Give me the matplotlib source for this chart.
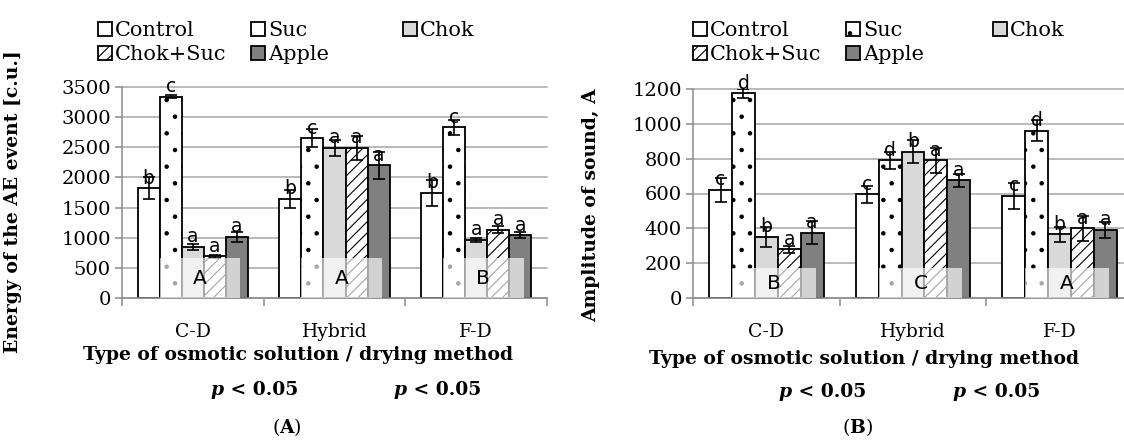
import numpy as np
import matplotlib.pyplot as plt
from matplotlib.patches import Rectangle

plt.rcParams['font.family'] = ['DejaVu Serif']
plt.rcParams['mathtext.fontset'] = 'dejavuserif'
plt.rcParams['hatch.linewidth'] = 0.8

methods = ['C-D', 'Hybrid', 'F-D']
solutions = ['Control', 'Suc', 'Chok', 'Chok+Suc', 'Apple']

# (A) energy of the AE event [c.u.], one list per solution over methods
energy_control = [1820, 1640, 1740]
energy_suc = [3340, 2650, 2830]
energy_chok = [850, 2490, 960]
energy_chok_suc = [690, 2490, 1130]
energy_apple = [1010, 2200, 1040]

energy_control_err = [180, 150, 220]
energy_suc_err = [25, 150, 120]
energy_chok_err = [50, 130, 30]
energy_chok_suc_err = [20, 200, 60]
energy_apple_err = [80, 230, 50]

energy_letters = ['b', 'c', 'a', 'a', 'a']
energy_groups = ['A', 'A', 'B']

# (B) amplitude of sound
amp_control = [620, 595, 585]
amp_suc = [1175, 790, 960]
amp_chok = [350, 840, 365]
amp_chok_suc = [280, 790, 400]
amp_apple = [375, 675, 390]

amp_control_err = [70, 50, 75]
amp_suc_err = [25, 50, 60]
amp_chok_err = [55, 65, 45]
amp_chok_suc_err = [20, 70, 70]
amp_apple_err = [65, 35, 45]

amp_letters = ['c', 'd', 'b', 'a', 'a']
amp_groups = ['B', 'C', 'A']

colors = ['white', 'white', '#d9d9d9', 'white', '#808080']
hatches = [None, '.', None, '///', None]
GRID = '#a6a6a6'
AXIS = '#8c8c8c'
W = 0.156
OFF = (1 - 5 * W) / 2


def draw_panel(ax, values, errors, letters, groups, box_top, ymax, ystep):
    bars = []
    for j, (vals, errs) in enumerate(zip(values, errors)):
        x = np.arange(len(methods)) + OFF + W * (j + 0.5)
        b = ax.bar(x, vals, width=W, color=colors[j], edgecolor='black',
                   linewidth=1.3, hatch=hatches[j], zorder=2, label=solutions[j])
        bars.append(b)
        ax.errorbar(x, vals, yerr=errs, fmt='none', ecolor='black',
                    elinewidth=1.2, capsize=4.5, capthick=1.2, zorder=3)
        for xi, v in zip(x, vals):
            ax.annotate(letters[j], (xi, v), xytext=(0, 0.5), textcoords='offset points',
                        ha='center', va='bottom', fontsize=13.5, family='DejaVu Sans',
                        zorder=6, annotation_clip=False)
    for i, g in enumerate(groups):
        x0 = i + OFF + W
        ax.add_patch(Rectangle((x0, 0), 3.65 * W, box_top, facecolor='white',
                               edgecolor='none', alpha=0.65, zorder=5))
        ax.text(x0 + 3.65 * W / 2, box_top / 2, g, ha='center', va='center',
                fontsize=14.5, family='DejaVu Sans', zorder=6)

    ax.set_xlim(0, 3)
    ax.set_ylim(0, ymax)
    ax.set_yticks(np.arange(0, ymax + 1, ystep))
    ax.set_xticks([0.5, 1.5, 2.5])
    ax.set_xticklabels(methods)
    ax.set_xticks([0, 1, 2, 3], minor=True)
    ax.tick_params(axis='x', which='major', length=0, pad=18, labelsize=13.5)
    ax.tick_params(axis='x', which='minor', length=6, width=1.1, color=AXIS)
    ax.tick_params(axis='y', length=5, width=1.1, color=AXIS, labelsize=14, pad=3)
    ax.yaxis.grid(True, color=GRID, linewidth=1.1)
    for line in ax.get_ygridlines():
        line.set_clip_on(False)
    ax.set_axisbelow(True)
    for s in ['top', 'right']:
        ax.spines[s].set_visible(False)
    for s in ['left', 'bottom']:
        ax.spines[s].set_color(AXIS)
        ax.spines[s].set_linewidth(1.1)
    return bars


def add_legend(fig, bars, x_first, x_third, y_top):
    kw = dict(frameon=False, fontsize=15, handlelength=0.65, handleheight=0.65,
              handletextpad=0.15, borderpad=0, labelspacing=0.25, columnspacing=1.2,
              loc='upper left', borderaxespad=0)
    fig.legend([bars[0], bars[3], bars[1], bars[4]],
               [solutions[0], solutions[3], solutions[1], solutions[4]],
               ncol=2, bbox_to_anchor=(x_first / 1124, 1 - y_top / 441), **kw)
    fig.legend([bars[2]], [solutions[2]],
               bbox_to_anchor=(x_third / 1124, 1 - y_top / 441), **kw)


def p_text(fig, x, y):
    t = fig.text(x / 1124 - 0.028, 1 - y / 441, 'p', fontsize=13.5, style='italic',
                 fontweight='bold', ha='left', va='center')
    fig.add_artist(plt.Annotation(' < 0.05', xy=(1, 0.5), xycoords=t, va='center',
                                  ha='left', fontsize=13.5, fontweight='bold'))


fig = plt.figure(figsize=(11.24, 4.41), dpi=100)
axA = fig.add_axes([122 / 1124, 1 - 298 / 441, (547 - 122) / 1124, (298 - 87) / 441])
axB = fig.add_axes([693 / 1124, 1 - 298 / 441, (1133 - 693) / 1124, (298 - 89) / 441])

barsA = draw_panel(axA,
                   [energy_control, energy_suc, energy_chok, energy_chok_suc, energy_apple],
                   [energy_control_err, energy_suc_err, energy_chok_err,
                    energy_chok_suc_err, energy_apple_err],
                   energy_letters, energy_groups, 660, 3500, 500)
barsB = draw_panel(axB,
                   [amp_control, amp_suc, amp_chok, amp_chok_suc, amp_apple],
                   [amp_control_err, amp_suc_err, amp_chok_err, amp_chok_suc_err, amp_apple_err],
                   amp_letters, amp_groups, 170, 1200, 200)

axA.set_ylabel('Energy of the AE event [c.u.]', fontsize=13.5, fontweight='bold')
axA.yaxis.set_label_coords((22 - 122) / 425, (298 - 202) / 211)
axB.set_ylabel('Amplitude of sound, A', fontsize=13.5, fontweight='bold')
axB.yaxis.set_label_coords((600 - 693) / 440, (298 - 205) / 209)

add_legend(fig, barsA, 98, 403, 21)
add_legend(fig, barsB, 693, 993, 21)

fig.text(298 / 1124, 1 - 355 / 441, 'Type of osmotic solution / drying method',
         fontsize=13.5, fontweight='bold', ha='center', va='center')
fig.text(864 / 1124, 1 - 359 / 441, 'Type of osmotic solution / drying method',
         fontsize=13.5, fontweight='bold', ha='center', va='center')

for xc in (242, 425):
    p_text(fig, xc, 390)
for xc in (810, 984):
    p_text(fig, xc, 392)

fig.text(287 / 1124, 1 - 427 / 441, r'($\mathbf{A}$)', fontsize=13.5, ha='center', va='center')
fig.text(858 / 1124, 1 - 427 / 441, r'($\mathbf{B}$)', fontsize=13.5, ha='center', va='center')

fig.savefig('out.png', dpi=100)
